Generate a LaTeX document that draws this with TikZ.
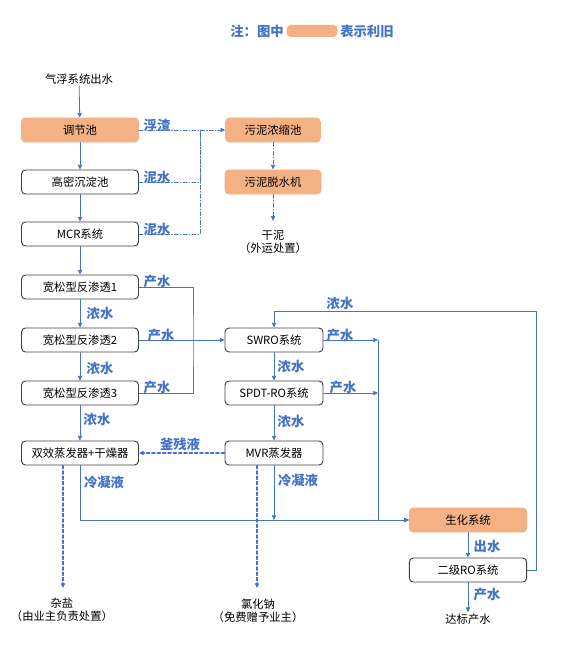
\documentclass[tikz,border=0pt]{standalone}
\usepackage{fontspec}
\setmainfont{Noto Sans CJK SC}
\usepackage{tikz}
\usetikzlibrary{arrows.meta}
\definecolor{lineblue}{HTML}{4472C4}
\definecolor{oldorange}{HTML}{F4B183}
\definecolor{boxgray}{HTML}{404040}
\tikzset{
  unit/.style={draw=boxgray,rounded corners=3pt,line width=0.7pt,minimum width=87.75pt,minimum height=18pt,inner sep=1pt,font=\fontsize{8.5}{10}\selectfont},
  oldunit/.style={unit,fill=oldorange,draw=oldorange},
  tag/.style={text=lineblue,inner sep=0pt,font=\bfseries\fontsize{10}{12}\selectfont},
  plain/.style={inner sep=1pt,align=center,font=\fontsize{8.5}{9.5}\selectfont},
  flow/.style={draw=lineblue,line width=0.6pt},
  sludge/.style={flow,dash pattern=on 3pt off 1.5pt on 0.6pt off 1.5pt},
  salt/.style={flow,line width=0.8pt,dash pattern=on 2.5pt off 1.5pt}
}

\begin{document}
\begin{tikzpicture}[line cap=round,line join=round,>={Triangle[length=3.5pt,width=3.2pt]},x=0.75pt,y=-0.75pt]
        \useasboundingbox (0,0) rectangle (568,660);
        % legend
        \node[tag,anchor=east] (note) at (284,31) {注：图中};
        \node[fill=oldorange,rounded corners=3pt,minimum width=38pt,minimum height=9pt,inner sep=0pt] (key) at (312,31) {};
        \node[tag,anchor=west] (keytxt) at (340,31) {表示利旧};
        % left column
        \node[plain] (src) at (79,79) {气浮系统出水};
        \node[oldunit] (tjc) at (80,130) {调节池};
        \node[unit] (gmc) at (80,182) {高密沉淀池};
        \node[unit] (mcr) at (80,234) {MCR系统};
        \node[unit] (ro1) at (80,287) {宽松型反渗透1};
        \node[unit] (ro2) at (80,340) {宽松型反渗透2};
        \node[unit] (ro3) at (80,393) {宽松型反渗透3};
        \node[unit] (sxz) at (80,453) {双效蒸发器+干燥器};
        % sludge line
        \node[oldunit,minimum width=71pt] (wnc) at (273,130) {污泥浓缩池};
        \node[oldunit,minimum width=72pt] (tsj) at (273,182) {污泥脱水机};
        \node[plain] (gn) at (273,242) {干泥\\（外运处置）};
        % middle column
        \node[unit,minimum width=73.5pt] (swro) at (274,340) {SWRO系统};
        \node[unit,minimum width=73.5pt] (spdt) at (274,393) {SPDT-RO系统};
        \node[unit,minimum width=73.5pt] (mvr) at (274,453) {MVR蒸发器};
        % right column
        \node[oldunit,minimum width=88pt] (shx) at (468,520) {生化系统};
        \node[unit,minimum width=88pt] (ejro) at (468,570) {二级RO系统};
        \node[plain] (dbcs) at (468,619) {达标产水};
        \node[plain] (zy) at (62,610) {杂盐\\（由业主负责处置）};
        \node[plain] (lhn) at (258,611) {氯化钠\\（免费赠予业主）};
        % junctions
        \coordinate (sj) at (200,130);
        \coordinate (cj) at (193,340);
        \coordinate (pj) at (378,340);
        \coordinate (nj) at (536,311);
        \coordinate (zyin) at (63,588);
        \coordinate (lhin) at (257,588);
        % main flow
        \draw[flow,->] (src) -- (tjc);
        \draw[flow,->] (tjc) -- (gmc);
        \draw[flow,->] (gmc) -- (mcr);
        \draw[flow,->] (mcr) -- (ro1);
        \draw[flow,->] (ro1) -- (ro2);
        \draw[flow,->] (ro2) -- (ro3);
        \draw[flow,->] (ro3) -- (sxz);
        \draw[sludge,->] (tjc) -- (wnc);
        \draw[sludge] (gmc.east) -| (sj);
        \draw[sludge] (mcr.east) -| (sj);
        \draw[sludge,->] (wnc) -- (tsj);
        \draw[sludge,->] (tsj) -- ([yshift=6pt]gn.north);
        \draw[flow] (ro1.east) -| (cj) |- (ro3.east);
        \draw[flow,->] (ro2) -- (swro);
        \draw[flow,->] (swro) -- (spdt);
        \draw[flow,->] (spdt) -- (mvr);
        \draw[salt,->] (mvr) -- (sxz);
        \draw[flow,->] (swro.east) -- (pj);
        \draw[flow,->] (spdt.east) -- (spdt.east -| pj);
        \draw[flow,->] (pj) |- (shx.west);
        \draw[flow,->] (sxz.south) |- (shx.west);
        \draw[flow,->] (mvr.south) -- (mvr.south |- shx.west);
        \draw[flow,->] (ejro.east) -| (nj) -| (swro.north);
        \draw[flow,->] (shx) -- (ejro);
        \draw[flow,->] (ejro) -- (dbcs);
        \draw[salt,->] (sxz.south -| zyin) -- (zyin);
        \draw[salt,->] (mvr.south -| lhin) -- (lhin);
        % labels
        \node[tag] (l1) at (157,125) {浮渣};
        \node[tag] (l2) at (157,177) {泥水};
        \node[tag] (l3) at (157,229) {泥水};
        \node[tag] (l4) at (157,281) {产水};
        \node[tag] (l5) at (161,335) {产水};
        \node[tag] (l6) at (157,387) {产水};
        \node[tag] (l7) at (100,313) {浓水};
        \node[tag] (l8) at (100,368) {浓水};
        \node[tag] (l9) at (97,419) {浓水};
        \node[tag] (l10) at (340,303) {浓水};
        \node[tag] (l11) at (340,335) {产水};
        \node[tag] (l12) at (343,387) {产水};
        \node[tag] (l13) at (291,366) {浓水};
        \node[tag] (l14) at (291,421) {浓水};
        \node[tag] (l15) at (180,444) {釜残液};
        \node[tag] (l16) at (104,482) {冷凝液};
        \node[tag] (l17) at (298,480) {冷凝液};
        \node[tag] (l18) at (487,546) {出水};
        \node[tag] (l19) at (487,594) {产水};
    \end{tikzpicture}
\end{document}
